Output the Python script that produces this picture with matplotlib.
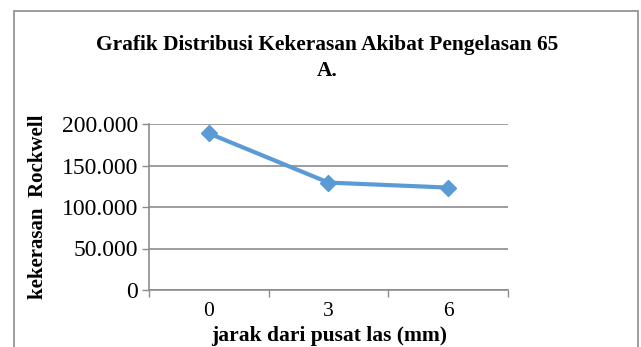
import matplotlib
matplotlib.use('Agg')
import matplotlib.pyplot as plt
from matplotlib.patches import Rectangle

# data
jarak = ['0', '3', '6']
kekerasan = [188.7, 129.4, 123.4]
yticks = [0, 50, 100, 150, 200]
ytick_labels = ['0', '50.000', '100.000', '150.000', '200.000']

plt.rcParams['font.family'] = ['Liberation Serif', 'DejaVu Serif']

fig = plt.figure(figsize=(6.41, 3.47), dpi=100)
ax = fig.add_axes([149 / 641, 1 - 290 / 347, (508 - 149) / 641, (290 - 124) / 347])

grey = '#8c8c8c'
blue = '#5b9bd5'

xs = list(range(len(jarak)))
ax.plot(xs, kekerasan, color=blue, linewidth=3, marker='D', markersize=8, zorder=3)

ax.set_xlim(-0.5, len(jarak) - 0.5)
ax.set_ylim(0, 200)
ax.set_yticks(yticks)
ax.set_yticklabels(ytick_labels, fontsize=17)
ax.yaxis.grid(True, color=grey, linewidth=1.2)
ax.set_axisbelow(True)

# category boundaries as ticks, labels at centres
ax.set_xticks([i - 0.5 for i in range(len(jarak) + 1)])
ax.set_xticklabels([])
ax.set_xticks(xs, minor=True)
ax.set_xticklabels(jarak, minor=True, fontsize=15.5)
ax.tick_params(axis='x', which='major', length=5, color=grey, width=1)
ax.tick_params(axis='x', which='minor', length=0, pad=9)
ax.tick_params(axis='y', length=5, color=grey, width=1, pad=3)

for side in ['top', 'right']:
    ax.spines[side].set_visible(False)
for side in ['left', 'bottom']:
    ax.spines[side].set_color(grey)
    ax.spines[side].set_linewidth(1.2)

ax.set_ylabel('kekerasan  Rockwell', fontsize=15, fontweight='bold', labelpad=10)

# x label sits tight under the category labels, as in the screenshot
fig.text(329 / 641, 1 - 341 / 347, 'jarak dari pusat las (mm)', ha='center', va='baseline',
         fontsize=15.5, fontweight='bold')

fig.text(0.51, 1 - 58 / 347, 'Grafik Distribusi Kekerasan Akibat Pengelasan 65\nA.',
         ha='center', va='center', fontsize=15.4, fontweight='bold', linespacing=1.45)

# chart border (cut off at right and bottom like the screenshot)
fig.patches.append(Rectangle((14 / 641, -0.1), 638 / 641 - 14 / 641, 1.1 - 11 / 347,
                             transform=fig.transFigure, fill=False,
                             edgecolor='#8c8c8c', linewidth=1.2))

fig.savefig('out.png', dpi=100)
